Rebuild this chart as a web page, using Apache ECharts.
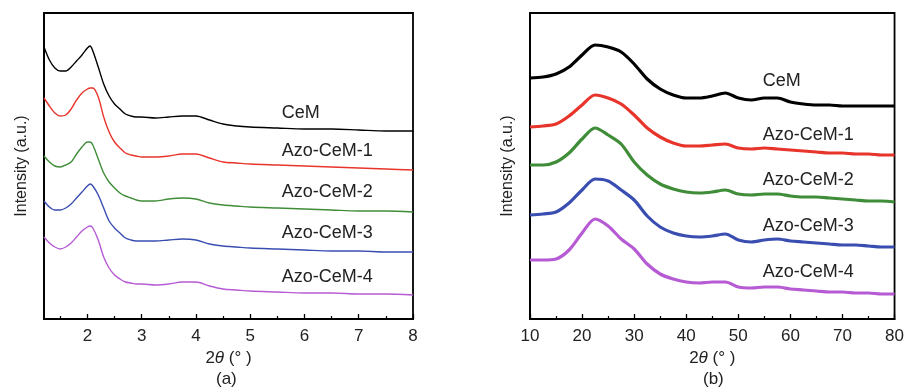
<!DOCTYPE html>
<html>
<head>
<meta charset="utf-8">
<script src="https://cdn.jsdelivr.net/npm/echarts@6/dist/echarts.min.js"></script>
<style>
  html, body { margin: 0; padding: 0; background: #fff; }
  #chart { width: 907px; height: 392px; }
</style>
</head>
<body>
<div id="chart"></div>
<script>
// ---- (a) small-angle XRD: 2θ (°) positions and stacked intensities (a.u.) ----
const thetaA = [1.2,1.3,1.4,1.5,1.6,1.7,1.8,1.9,2.0,2.05,2.1,2.2,2.3,2.4,2.5,2.6,2.7,2.8,2.9,3.0,3.25,3.5,3.75,4.0,4.25,4.5,4.75,5.0,5.5,6.0,6.5,7.0,7.5,8.0];
const cemA  = [272,259,251,248,248,252,258,264,271,273,268,252,235,223,215,210,205,203,202,202,201,202,203,203,199,195,193,192,191,190,190,189,188,188];
const azo1A = [221,213,206,203,204,210,219,226,230,231,231,222,202,187,177,171,166,164,163,162,162,163,165,165,161,157,156,155,154,153,152,151,150,149];
const azo2A = [163,157,153,152,154,157,165,172,177,177,174,160,146,137,131,126,123,121,119,118,118,120,121,120,116,114,113,112,111,110,109,108,108,107];
const azo3A = [118,112,109,109,111,115,121,127,133,135,133,124,111,98,91,86,81,79,78,78,78,79,80,79,75,73,72,71,70,69,68,68,67,67];
const azo4A = [82,76,72,70,72,76,82,88,92,93,91,79,62,51,44,40,37,36,35,35,34,35,37,37,33,30,29,28,27,26,26,25,25,24];

// ---- (b) wide-angle XRD ----
const thetaB = [10,12.5,15,17.5,20,22.5,25,27.5,30,32.5,35,37.5,40,42.5,45,47.5,50,52.5,55,57.5,60,62.5,65,67.5,70,72.5,75,77.5,80];
const cemB  = [241,242,245,252,264,274,272,267,255,240,230,224,221,221,223,226,221,219,221,221,217,215,214,214,213,213,213,213,213];
const azo1B = [192,193,195,203,214,224,221,215,204,191,182,176,173,173,174,175,171,170,171,170,169,168,167,166,166,165,165,164,164];
const azo2B = [154,154,157,166,180,191,184,175,157,144,135,130,127,126,127,129,125,124,125,125,123,122,122,121,120,119,118,118,117];
const azo3B = [104,105,107,116,129,140,138,129,119,103,92,86,83,82,83,85,79,77,79,80,78,77,76,75,74,74,73,72,72];
const azo4B = [59,59,60,69,86,100,93,80,70,55,45,40,37,36,37,37,32,31,32,32,30,29,28,27,27,26,26,25,25];

const names = ['CeM', 'Azo-CeM-1', 'Azo-CeM-2', 'Azo-CeM-3', 'Azo-CeM-4'];
const colors = ['#000000', '#e8352b', '#3f8d38', '#3a4eb2', '#b65bd3'];
const seriesA = [cemA, azo1A, azo2A, azo3A, azo4A];
const seriesB = [cemB, azo1B, azo2B, azo3B, azo4B];

// tick positions for the two 2θ axes
const ticksA = [2, 3, 4, 5, 6, 7, 8];
const minorTicksA = [1.5, 2.5, 3.5, 4.5, 5.5, 6.5, 7.5];
const ticksB = [10, 20, 30, 40, 50, 60, 70, 80];
const minorTicksB = [15, 25, 35, 45, 55, 65, 75];

// where each curve's name is written, in data coordinates
const labelXA = 5.58;
const labelYA = [206, 168, 127, 86, 42];
const labelXB = 54.7;
const labelYB = [238, 184, 139, 93, 47];

const FONT = '"Liberation Sans", Arial, sans-serif';

function xAxisCfg(gridIndex, min, max, ticks) {
  return {
    type: 'value', gridIndex, min, max,
    name: '2{i|θ} (° )',
    nameLocation: 'middle', nameGap: 30,
    nameTextStyle: { fontFamily: FONT, fontSize: 17, color: '#222',
      rich: { i: { fontFamily: FONT, fontStyle: 'italic', fontSize: 17, color: '#222' } } },
    axisLine: { show: true, lineStyle: { color: '#000', width: 1.8 } },
    axisTick: { show: true, inside: true, length: 5, customValues: ticks, lineStyle: { color: '#000', width: 1.3 } },
    axisLabel: { fontFamily: FONT, fontSize: 17, color: '#222', margin: 9, customValues: ticks,
      formatter: v => String(v) },
    splitLine: { show: false }
  };
}
// second bottom axis on the same grid, carrying only the short minor ticks
function minorAxisCfg(gridIndex, min, max, ticks) {
  return {
    type: 'value', gridIndex, min, max, position: 'bottom',
    axisLine: { show: false },
    axisTick: { show: true, inside: true, length: 3, customValues: ticks, lineStyle: { color: '#000', width: 1.2 } },
    axisLabel: { show: false, customValues: ticks },
    splitLine: { show: false }
  };
}
function yAxisCfg(gridIndex) {
  return {
    type: 'value', gridIndex, min: 0, max: 306,
    name: 'Intensity (a.u.)', nameLocation: 'middle', nameGap: 14,
    nameTextStyle: { fontFamily: FONT, fontSize: 16, color: '#222' },
    axisLine: { show: true, lineStyle: { color: '#000', width: 1.8 } },
    axisTick: { show: false }, axisLabel: { show: false }, splitLine: { show: false }
  };
}

function buildSeries(xs, list, axisIndex, width, lx, ly) {
  return list.map((ys, i) => ({
    type: 'line', name: names[i], data: xs.map((x, k) => [x, ys[k]]),
    xAxisIndex: axisIndex, yAxisIndex: axisIndex,
    showSymbol: false, smooth: 0.3, silent: true,
    lineStyle: { color: colors[i], width },
    markPoint: {
      symbol: 'circle', symbolSize: 0, silent: true,
      data: [{ coord: [lx, ly[i]] }],
      label: { show: true, position: 'inside', align: 'left', verticalAlign: 'middle',
        formatter: names[i], fontFamily: FONT, fontSize: 18, color: '#222' }
    }
  }));
}

const chart = echarts.init(document.getElementById('chart'), null, { renderer: 'canvas' });
chart.setOption({
  animation: false,
  backgroundColor: '#fff',
  grid: [
    { left: 44, top: 13, right: 494, bottom: 73, show: true, borderColor: '#000', borderWidth: 1.8 },
    { left: 530, top: 13, right: 9, bottom: 73, show: true, borderColor: '#000', borderWidth: 1.8 }
  ],
  xAxis: [
    xAxisCfg(0, 1.2, 8, ticksA),
    xAxisCfg(1, 10, 80, ticksB),
    minorAxisCfg(0, 1.2, 8, minorTicksA),
    minorAxisCfg(1, 10, 80, minorTicksB)
  ],
  yAxis: [yAxisCfg(0), yAxisCfg(1)],
  graphic: [
    { type: 'text', left: 216, top: 371, style: { text: '(a)', font: '17px ' + FONT, fill: '#222' } },
    { type: 'text', left: 703, top: 371, style: { text: '(b)', font: '17px ' + FONT, fill: '#222' } }
  ],
  series: [
    ...buildSeries(thetaA, seriesA, 0, 1.4, labelXA, labelYA),
    ...buildSeries(thetaB, seriesB, 1, 3.2, labelXB, labelYB)
  ]
});
</script>
</body>
</html>
